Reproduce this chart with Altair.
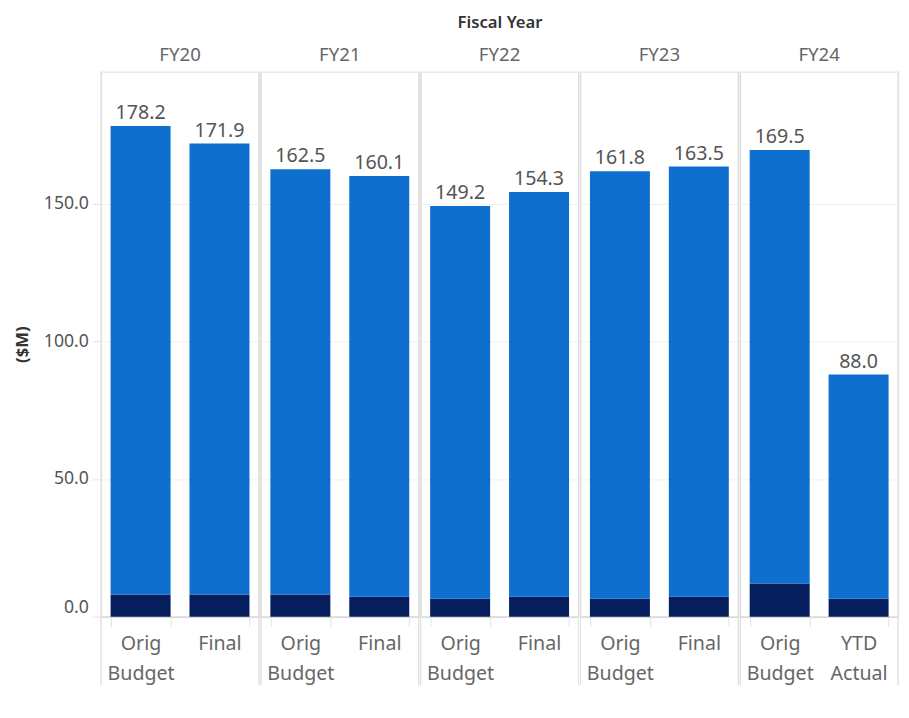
import altair as alt
import pandas as pd

# ---- data ----
years = ["FY20", "FY20", "FY21", "FY21", "FY22", "FY22", "FY23", "FY23", "FY24", "FY24"]
types = ["Orig Budget", "Final", "Orig Budget", "Final", "Orig Budget", "Final",
         "Orig Budget", "Final", "Orig Budget", "YTD Actual"]
totals = [178.2, 171.9, 162.5, 160.1, 149.2, 154.3, 161.8, 163.5, 169.5, 88.0]
dark_part = [8.0, 8.0, 8.0, 7.2, 6.5, 7.2, 6.5, 7.2, 12.0, 6.5]
segments = ["Component A", "Component B"]
seg_colors = ["#061d5e", "#0e6fce"]
type_order = ["Orig Budget", "Final", "YTD Actual"]

rows = []
for y, t, tot, d in zip(years, types, totals, dark_part):
    rows.append({"year": y, "type": t, "segment": segments[0], "value": d, "ord": 0, "total": tot})
    rows.append({"year": y, "type": t, "segment": segments[1], "value": round(tot - d, 1), "ord": 1, "total": tot})
df = pd.DataFrame(rows)

W, H = 161, 556
FONT = "Noto Sans"

x_enc = alt.X(
    "type:N", sort=type_order, title=None,
    scale=alt.Scale(paddingInner=0.24, paddingOuter=0.12),
    axis=alt.Axis(labelAngle=0, labelExpr="split(datum.label, ' ')", labelLineHeight=30,
                  labelFontSize=20, labelColor="#666666", labelPadding=8,
                  domainColor="#cccccc", tickBand="extent", tickColor="#e0e0e0",
                  tickSize=10, labelFont=FONT),
)
y_scale = alt.Scale(domain=[0, 198], nice=False)

bars = alt.Chart().mark_bar().encode(
    x=x_enc,
    y=alt.Y("value:Q", stack="zero", scale=y_scale, title="($M)",
            axis=alt.Axis(values=[0, 50, 100, 150], format=".1f", labelFontSize=18,
                          labelColor="#555555", labelFlush=True, gridColor="#f0f0f0",
                          domain=False, tickColor="#e0e0e0", tickSize=8, labelPadding=4,
                          titleFontSize=17, titleFontWeight="bold", titleColor="#333333",
                          titlePadding=12, labelFont=FONT, titleFont=FONT)),
    color=alt.Color("segment:N", scale=alt.Scale(domain=segments, range=seg_colors), legend=None),
    order=alt.Order("ord:Q"),
)

labels = alt.Chart().mark_text(dy=-13, fontSize=20, color="#555555", font=FONT).transform_filter(
    alt.datum.ord == 0
).encode(
    x=alt.X("type:N", sort=type_order),
    y=alt.Y("total:Q", scale=y_scale),
    text=alt.Text("total:Q", format=".1f"),
)

sep_left = alt.Chart().mark_rule(color="#e0e0e0", strokeWidth=1).transform_filter(
    alt.datum.ord == 0
).encode(x=alt.value(0), y=alt.value(0), y2=alt.value(H + 70))
sep_right = alt.Chart().mark_rule(color="#e0e0e0", strokeWidth=1).transform_filter(
    alt.datum.ord == 0
).encode(x=alt.value(W), y=alt.value(0), y2=alt.value(H + 70))

chart = alt.layer(sep_left, sep_right, bars, labels, data=df).properties(
    width=W, height=H
).facet(
    column=alt.Column("year:N", title="Fiscal Year",
                      header=alt.Header(labelOrient="top", titleOrient="top",
                                        labelFontSize=19, labelColor="#666666", labelFont=FONT,
                                        labelPadding=6, titleFontSize=17, titleColor="#333333",
                                        titleFont=FONT, titleFontWeight=600, titlePadding=4)),
    spacing=0,
).resolve_scale(x="independent").configure_view(
    stroke="#dddddd"
).configure(padding={"left": 5, "top": 0, "right": 2, "bottom": 0})

chart.save("out.html", embed_options={"renderer": "svg", "actions": False})
